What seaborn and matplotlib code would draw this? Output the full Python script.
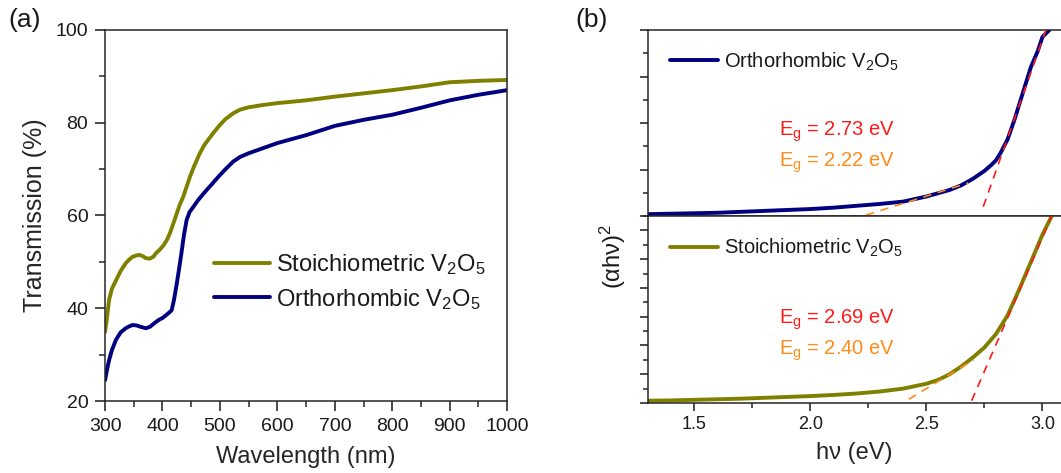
import numpy as np
import pandas as pd
import seaborn as sns
import matplotlib.pyplot as plt
from matplotlib.ticker import MultipleLocator

#%% data

# (a) transmission spectra
wl_stoich = [300, 303, 307, 312, 319, 327, 336, 343, 348, 355, 360, 366, 371, 378, 384, 389,
             395, 402, 408, 413, 419, 425, 430, 436, 442, 448, 455, 465, 473, 482, 490,
             500, 510, 523, 535, 550, 575, 600, 650, 700, 750, 800, 850, 900, 950, 1000]
tr_stoich = [34.9, 37.5, 41.8, 44.2, 46.0, 48.0, 49.7, 50.6, 51.1, 51.4, 51.5, 51.2, 50.8, 50.7, 51.1, 51.9,
             52.6, 53.6, 54.8, 56.2, 58.3, 60.5, 62.3, 64.0, 66.2, 68.4, 70.6, 73.4, 75.2, 76.7, 78.0,
             79.5, 80.8, 82.0, 82.8, 83.3, 83.8, 84.2, 84.8, 85.6, 86.3, 87.0, 87.8, 88.7, 89.0, 89.2]

wl_ortho = [300, 303, 307, 312, 319, 327, 336, 342, 348, 355, 362, 371, 378, 384, 389, 395,
            400, 406, 411, 416, 420, 425, 429, 433, 437, 442, 447, 454, 462, 470, 477,
            485, 492, 500, 510, 523, 535, 550, 575, 600, 650, 700, 750, 800, 850, 900, 950, 1000]
tr_ortho = [24.5, 26.5, 28.8, 31.0, 33.2, 34.8, 35.7, 36.1, 36.4, 36.3, 36.0, 35.7, 36.0, 36.6, 37.1, 37.6,
            37.9, 38.5, 39.0, 39.6, 41.8, 45.4, 48.6, 51.9, 55.5, 59.0, 60.7, 61.9, 63.3, 64.5, 65.5,
            66.6, 67.6, 68.7, 70.0, 71.6, 72.6, 73.4, 74.5, 75.6, 77.3, 79.3, 80.6, 81.7, 83.2, 84.8, 86.0, 87.0]

# (b) Tauc plots, arbitrary units
hv_ortho = [1.30, 1.40, 1.50, 1.60, 1.70, 1.80, 1.90, 2.00, 2.10, 2.20, 2.30, 2.40, 2.50,
            2.60, 2.65, 2.70, 2.75, 2.78, 2.80, 2.82, 2.85, 2.88, 2.90, 2.93, 2.95, 2.98, 3.00, 3.03]
ah_ortho = [0.04, 0.05, 0.06, 0.07, 0.09, 0.11, 0.13, 0.15, 0.18, 0.22, 0.26, 0.31, 0.42,
            0.56, 0.66, 0.80, 0.97, 1.10, 1.20, 1.36, 1.65, 2.08, 2.40, 2.88, 3.20, 3.55, 3.85, 4.00]

hv_stoich = [1.30, 1.40, 1.50, 1.60, 1.70, 1.80, 1.90, 2.00, 2.10, 2.20, 2.30, 2.40, 2.50,
             2.55, 2.60, 2.65, 2.70, 2.75, 2.80, 2.85, 2.90, 2.95, 3.00, 3.04]
ah_stoich = [0.08, 0.09, 0.11, 0.13, 0.15, 0.18, 0.21, 0.24, 0.28, 0.33, 0.40, 0.50, 0.67,
             0.80, 1.00, 1.27, 1.58, 1.93, 2.40, 3.05, 3.95, 4.90, 5.85, 6.50]

# linear fits (end points) and band gaps
fit_ortho_hi = ([2.745, 3.015], [0.20, 4.00])
fit_ortho_lo = ([2.24, 2.68], [0.02, 0.71])
fit_stoich_hi = ([2.695, 3.04], [0.08, 6.50])
fit_stoich_lo = ([2.424, 2.704], [0.13, 1.50])
eg_ortho = ["2.73", "2.22"]
eg_stoich = ["2.69", "2.40"]

#%% style
sns.set_style("ticks")
plt.rcParams["font.family"] = ["Liberation Sans", "DejaVu Sans"]
plt.rcParams["mathtext.fontset"] = "custom"
plt.rcParams["mathtext.rm"] = "Liberation Sans"
plt.rcParams["mathtext.it"] = "Liberation Sans:italic"
plt.rcParams["axes.linewidth"] = 1.1
plt.rcParams["text.color"] = "#1a1a1a"

olive = "#808000"
navy = "#000080"
red = "#ff1a1a"
orange = "#ff8c1a"
V2O5 = "V$_2$O$_5$"

fig = plt.figure(figsize=(10.61, 4.73), dpi=100)

#%% panel (a)
ax = fig.add_axes([0.099, 0.152, 0.379, 0.785])
sns.lineplot(x=wl_stoich, y=tr_stoich, color=olive, lw=2.8, ax=ax, sort=False,
             label="Stoichiometric " + V2O5)
sns.lineplot(x=wl_ortho, y=tr_ortho, color=navy, lw=2.8, ax=ax, sort=False,
             label="Orthorhombic " + V2O5)
ax.set_xlim(300, 1000)
ax.set_ylim(20, 100)
ax.xaxis.set_major_locator(MultipleLocator(100))
ax.xaxis.set_minor_locator(MultipleLocator(50))
ax.yaxis.set_major_locator(MultipleLocator(20))
ax.yaxis.set_minor_locator(MultipleLocator(10))
ax.tick_params(which="major", length=7, width=1.1, labelsize=14, pad=5, colors="#1a1a1a")
ax.tick_params(which="minor", length=4, width=1.1)
ax.set_xlabel("Wavelength (nm)", fontsize=17, labelpad=8)
ax.set_ylabel("Transmission (%)", fontsize=18, labelpad=6)
for s in ax.spines.values():
    s.set_visible(True)
ax.legend(loc="center left", bbox_to_anchor=(0.27, 0.321), frameon=False, fontsize=17,
          handlelength=2.4, handletextpad=0.25, labelspacing=0.4, borderpad=0, borderaxespad=0)
fig.text(0.008, 0.958, "(a)", fontsize=19, va="center")

#%% panel (b)
axt = fig.add_axes([0.6107, 0.5433, 0.3893, 0.3932])
axb = fig.add_axes([0.6107, 0.148, 0.3893, 0.3953], sharex=axt)

sns.lineplot(x=hv_ortho, y=ah_ortho, color=navy, lw=2.8, ax=axt, sort=False,
             label="Orthorhombic " + V2O5)
sns.lineplot(x=hv_stoich, y=ah_stoich, color=olive, lw=2.8, ax=axb, sort=False,
             label="Stoichiometric " + V2O5)

for a, hi, lo in [(axt, fit_ortho_hi, fit_ortho_lo), (axb, fit_stoich_hi, fit_stoich_lo)]:
    a.plot(*hi, color=red, lw=1.2, ls=(0, (5, 4)), zorder=5)
    a.plot(*lo, color=orange, lw=1.2, ls=(0, (5, 4)), zorder=5)

axt.set_ylim(0, 4)
axb.set_ylim(0, 6.5)
axt.set_xlim(1.3, 3.08)
for a in (axt, axb):
    a.xaxis.set_major_locator(MultipleLocator(0.5))
    a.xaxis.set_minor_locator(MultipleLocator(0.25))
    a.yaxis.set_major_locator(MultipleLocator(1))
    a.yaxis.set_minor_locator(MultipleLocator(0.5))
    a.tick_params(which="major", length=6, width=1.1, labelsize=13, colors="#1a1a1a")
    a.tick_params(which="minor", length=3.5, width=1.1)
    a.tick_params(axis="y", labelleft=False)
    a.spines["right"].set_visible(False)
    a.spines["top"].set_visible(True)
    a.legend(loc="center left", frameon=False, fontsize=14.5, handlelength=2.4,
             handletextpad=0.3, borderpad=0, borderaxespad=0,
             bbox_to_anchor=(0.053, 0.83))
axt.tick_params(axis="x", labelbottom=False)
axt.set_xlabel("")
axb.set_xlabel("h\u03bd (eV)", fontsize=17, labelpad=6)

for a, eg, yy in [(axt, eg_ortho, (0.43, 0.263)), (axb, eg_stoich, (0.422, 0.257))]:
    a.text(0.318, yy[0], "E$_\\mathregular{g}$ = " + eg[0] + " eV", color=red,
           fontsize=14.5, transform=a.transAxes, va="baseline")
    a.text(0.318, yy[1], "E$_\\mathregular{g}$ = " + eg[1] + " eV", color=orange,
           fontsize=14.5, transform=a.transAxes, va="baseline")

fig.text(0.578, 0.457, "(\u03b1h\u03bd)$^2$", fontsize=17, rotation=90, va="center", ha="center")
fig.text(0.542, 0.958, "(b)", fontsize=19, va="center")

plt.savefig("out.png", dpi=100)
plt.close()
